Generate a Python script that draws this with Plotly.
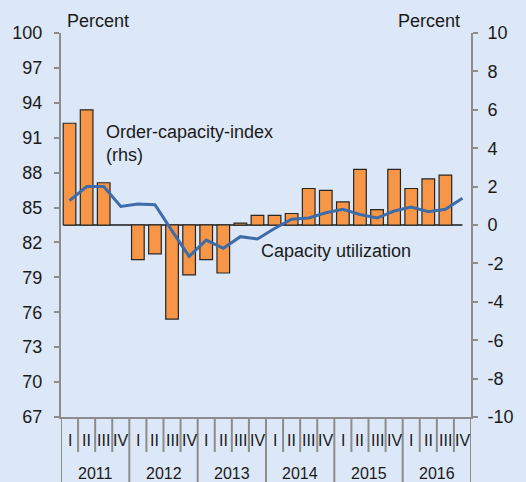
import plotly.graph_objects as go

years = ['2011', '2012', '2013', '2014', '2015', '2016']
quarters = ['I', 'II', 'III', 'IV']
periods = [y + ' ' + q for y in years for q in quarters]

# order-capacity-index (rhs), None where no bar is shown
order_capacity = [5.3, 6.0, 2.2, None,
                  -1.8, -1.5, -4.9, -2.6,
                  -1.8, -2.5, 0.1, 0.5,
                  0.5, 0.6, 1.9, 1.8,
                  1.2, 2.9, 0.8, 2.9,
                  1.9, 2.4, 2.6, None]

# capacity utilization (lhs)
capacity_util = [85.6, 86.8, 86.8, 85.1,
                 85.3, 85.25, 83.0, 80.8,
                 82.2, 81.5, 82.5, 82.3,
                 83.2, 84.0, 84.1, 84.55,
                 84.85, 84.4, 84.1, 84.7,
                 85.05, 84.65, 84.85, 85.8]

left_ticks = list(range(67, 101, 3))
right_ticks = list(range(-10, 11, 2))

font = 'Liberation Sans, Arial, sans-serif'
grey = '#8c8c8c'
bg = '#dce8f7'
txt = '#1a1a1a'

fig = go.Figure()
fig.add_trace(go.Bar(x=periods, y=order_capacity, yaxis='y',
                     marker=dict(color='#f79646', line=dict(color='#262626', width=1.2)),
                     width=0.74))
fig.add_trace(go.Scatter(x=periods, y=capacity_util, yaxis='y2', mode='lines',
                         line=dict(color='#3d6ca8', width=3)))

# zero line for the bars
fig.add_shape(type='line', xref='x', yref='y', x0=-0.35, x1=23, y0=0, y1=0,
              line=dict(color='#1a1a1a', width=1.5), layer='below')

# category axis: quarter separators, year separators and labels
for i in range(len(periods) + 1):
    long_tick = i % 4 == 0
    fig.add_shape(type='line', xref='x', yref='paper', x0=i - 0.5, x1=i - 0.5,
                  y0=0, y1=-0.175 if long_tick else -0.091,
                  line=dict(color=grey, width=2))
for i, p in enumerate(periods):
    fig.add_annotation(x=p, xref='x', y=0, yref='paper', yshift=-23, yanchor='middle',
                       text=p.split(' ')[1], showarrow=False,
                       font=dict(size=16, color=txt, family=font))
for j, y in enumerate(years):
    fig.add_annotation(x=j * 4 + 1.5, xref='x', y=0, yref='paper', yshift=-56, yanchor='middle',
                       text=y, showarrow=False, font=dict(size=16, color=txt, family=font))

fig.add_annotation(x=0, xref='paper', xshift=4, y=1, yref='paper', yshift=12, text='Percent',
                   xanchor='left', yanchor='middle', showarrow=False,
                   font=dict(size=18, color=txt, family=font))
fig.add_annotation(x=1, xref='paper', xshift=-9, y=1, yref='paper', yshift=12, text='Percent',
                   xanchor='right', yanchor='middle', showarrow=False,
                   font=dict(size=18, color=txt, family=font))
fig.add_annotation(x=2.0, xref='x', y=90.5, yref='y2', text='Order-capacity-index<br>(rhs)',
                   xanchor='left', yanchor='middle', align='left', showarrow=False,
                   font=dict(size=18, color=txt, family=font))
fig.add_annotation(x=11.1, xref='x', y=81.3, yref='y2', text='Capacity utilization',
                   xanchor='left', yanchor='middle', showarrow=False,
                   font=dict(size=18, color=txt, family=font))

fig.update_layout(
    width=526, height=482,
    margin=dict(l=59, r=44, t=33, b=65),
    paper_bgcolor=bg, plot_bgcolor=bg,
    showlegend=False,
    font=dict(family=font, size=18, color=txt),
    xaxis=dict(range=[-0.5, 23.5], showticklabels=False, ticks='', showgrid=False,
               showline=True, linecolor=grey, linewidth=2, zeroline=False),
    yaxis=dict(side='right', range=[-10, 10], tickvals=right_ticks,
               ticktext=[str(v) for v in right_ticks], ticks='outside', ticklen=5,
               ticklabelstandoff=6, tickcolor=grey, tickwidth=2, showgrid=False,
               zeroline=False, showline=True, linecolor=grey, linewidth=2),
    yaxis2=dict(side='left', overlaying='y', range=[67, 100], tickvals=left_ticks,
                ticks='outside', ticklen=5, ticklabelstandoff=8, tickcolor=grey, tickwidth=2,
                showgrid=False, zeroline=False, showline=True, linecolor=grey, linewidth=2),
)

fig.write_html('out.html', config={'displayModeBar': False},
               post_script="document.body.style.margin='0px';document.body.style.overflow='hidden';")
